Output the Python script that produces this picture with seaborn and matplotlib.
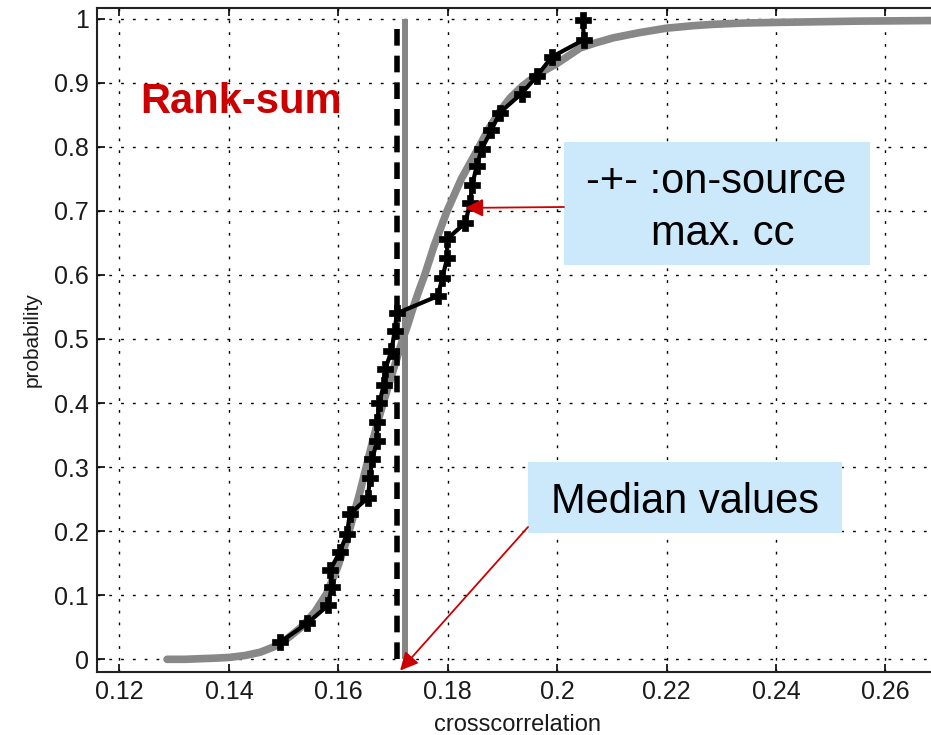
import matplotlib
matplotlib.use("Agg")
import matplotlib.pyplot as plt
import seaborn as sns
import pandas as pd
from matplotlib.patches import Rectangle

# ---------------- data ----------------
ref_x = [0.1287, 0.1320, 0.1350, 0.1380, 0.1401, 0.1430, 0.1457, 0.1481, 0.1500,
         0.1515, 0.1535, 0.1558, 0.1579, 0.1598, 0.1615, 0.1627, 0.1639, 0.1651,
         0.1663, 0.1672, 0.1682, 0.1691, 0.1700, 0.1709, 0.1718, 0.1727, 0.1735,
         0.1746, 0.1758, 0.1775, 0.1799, 0.1825, 0.1853, 0.1875, 0.1895, 0.1915,
         0.1937, 0.1965, 0.2000, 0.2042, 0.2070, 0.2103, 0.2150, 0.2200, 0.2250,
         0.2285, 0.2340, 0.2400, 0.2550, 0.2700]
ref_p = [0.000, 0.000, 0.001, 0.002, 0.003, 0.006, 0.011, 0.019, 0.028,
         0.038, 0.052, 0.075, 0.103, 0.142, 0.185, 0.222, 0.259, 0.300,
         0.341, 0.370, 0.400, 0.425, 0.450, 0.475, 0.500, 0.522, 0.544,
         0.572, 0.600, 0.645, 0.700, 0.750, 0.793, 0.828, 0.855, 0.877,
         0.895, 0.913, 0.930, 0.954, 0.962, 0.970, 0.978, 0.985, 0.989,
         0.991, 0.993, 0.994, 0.996, 0.997]

on_x = [0.1494, 0.1543, 0.1581, 0.1588, 0.1585, 0.1603, 0.1616, 0.1621, 0.1654,
        0.1658, 0.1662, 0.1671, 0.1671, 0.1675, 0.1683, 0.1686, 0.1697, 0.1703,
        0.1707, 0.1782, 0.1790, 0.1799, 0.1799, 0.1832, 0.1841, 0.1845, 0.1853,
        0.1862, 0.1880, 0.1895, 0.1935, 0.1963, 0.1990, 0.2049, 0.2047]
on_p = [0.027, 0.056, 0.084, 0.113, 0.139, 0.168, 0.196, 0.227, 0.252,
        0.283, 0.313, 0.341, 0.370, 0.400, 0.428, 0.453, 0.481, 0.512,
        0.540, 0.567, 0.595, 0.626, 0.656, 0.681, 0.712, 0.741, 0.770,
        0.796, 0.826, 0.853, 0.883, 0.910, 0.940, 0.967, 0.998]

median_on = 0.1707
median_ref = 0.1722
median_p = [0.0, 1.0]

x_ticks = [0.12, 0.14, 0.16, 0.18, 0.20, 0.22, 0.24, 0.26]
x_tick_labels = ["0.12", "0.14", "0.16", "0.18", "0.2", "0.22", "0.24", "0.26"]
y_ticks = [0.0, 0.1, 0.2, 0.3, 0.4, 0.5, 0.6, 0.7, 0.8, 0.9, 1.0]
y_tick_labels = ["0", "0.1", "0.2", "0.3", "0.4", "0.5", "0.6", "0.7", "0.8", "0.9", "1"]

x_label = "crosscorrelation"
y_label = "probability"
title_text = "Rank-sum"
box1_lines = ["-+- :on-source", "max. cc"]
box2_text = "Median values"

# ---------------- style ----------------
sns.set_theme(style="white")
plt.rcParams["font.family"] = ["Liberation Sans", "DejaVu Sans"]

W, H = 931, 735
fig = plt.figure(figsize=(W / 100, H / 100), dpi=100)
ax = fig.add_axes([97 / W, (H - 672) / H, (W - 97) / W, 664 / H])


def fx(px):
    return px / W


def fy(py):
    return (H - py) / H


ref_df = pd.DataFrame({"x": ref_x, "p": ref_p})
on_df = pd.DataFrame({"x": on_x, "p": on_p})

# reference (off-source) distribution
sns.lineplot(data=ref_df, x="x", y="p", ax=ax, color="#888888", lw=5.5,
             sort=False, estimator=None, solid_capstyle="round",
             solid_joinstyle="round", zorder=3)

# median lines
ax.plot([median_ref, median_ref], median_p, color="#858585", lw=4.3,
        solid_capstyle="butt", zorder=3)
dl, = ax.plot([median_on, median_on], median_p, color="black", lw=4.0,
              zorder=4, dash_capstyle="butt")
dl.set_dashes((3.0, 1.8))

# on-source values
sns.lineplot(data=on_df, x="x", y="p", ax=ax, color="black", lw=3,
             marker="P", markersize=12, markeredgecolor="black",
             markeredgewidth=0.5, sort=False, estimator=None, zorder=5)

# axes
ax.set_xlim(0.11589, 0.26835)
ax.set_ylim(-0.0198, 1.0165)
ax.set_xticks(x_ticks)
ax.set_xticklabels(x_tick_labels)
ax.set_yticks(y_ticks)
ax.set_yticklabels(y_tick_labels)
ax.tick_params(axis="both", direction="in", length=6, width=1.2, color="black",
               labelsize=18, pad=6, labelcolor="#1a1a1a")
ax.tick_params(axis="x", top=True, bottom=True)
ax.tick_params(axis="y", left=True, right=False)
ax.grid(True, color="black", lw=1.0, linestyle=(0, (2, 6.5)))
ax.set_axisbelow(True)
for side in ["left", "bottom", "top"]:
    ax.spines[side].set_visible(True)
    ax.spines[side].set_color("#222222")
    ax.spines[side].set_linewidth(1.5)
ax.spines["right"].set_visible(False)

ax.set_xlabel(x_label, fontsize=17, color="#1a1a1a")
ax.set_ylabel(y_label, fontsize=15, color="#1a1a1a")
ax.xaxis.set_label_coords(0.5036, -0.063)
ax.yaxis.set_label_coords(-0.066, 0.5)

# ---------------- annotations ----------------
red = "#cc0000"
box_col = "#cce9fb"

fig.text(fx(140), fy(113), title_text, fontsize=30, fontweight="bold",
         color=red, ha="left", va="baseline", zorder=8)

r1 = Rectangle((fx(564), fy(265)), fx(870) - fx(564), fy(142) - fy(265),
               transform=fig.transFigure, facecolor=box_col, edgecolor="none",
               zorder=6, clip_on=False)
ax.add_patch(r1)
fig.text(fx(716), fy(193), box1_lines[0], fontsize=30, color="black",
         ha="center", va="baseline", zorder=8)
fig.text(fx(723), fy(245), box1_lines[1], fontsize=30, color="black",
         ha="center", va="baseline", zorder=8)

r2 = Rectangle((fx(528), fy(533)), fx(842) - fx(528), fy(462) - fy(533),
               transform=fig.transFigure, facecolor=box_col, edgecolor="none",
               zorder=6, clip_on=False)
ax.add_patch(r2)
fig.text(fx(685), fy(513), box2_text, fontsize=30, color="black",
         ha="center", va="baseline", zorder=8)

arrow_kw = dict(arrowstyle="-|>,head_length=0.4,head_width=0.2", color=red,
                lw=1.3, shrinkA=0, shrinkB=0, mutation_scale=27)
ax.annotate("", xy=(0.1832, 0.7045), xycoords="data",
            xytext=(564, H - 207), textcoords="figure pixels",
            arrowprops=arrow_kw, zorder=7, annotation_clip=False)
ax.annotate("", xy=(0.1713, -0.0175), xycoords="data",
            xytext=(528, H - 527), textcoords="figure pixels",
            arrowprops=arrow_kw, zorder=7, annotation_clip=False)

fig.savefig("out.png", dpi=100)
